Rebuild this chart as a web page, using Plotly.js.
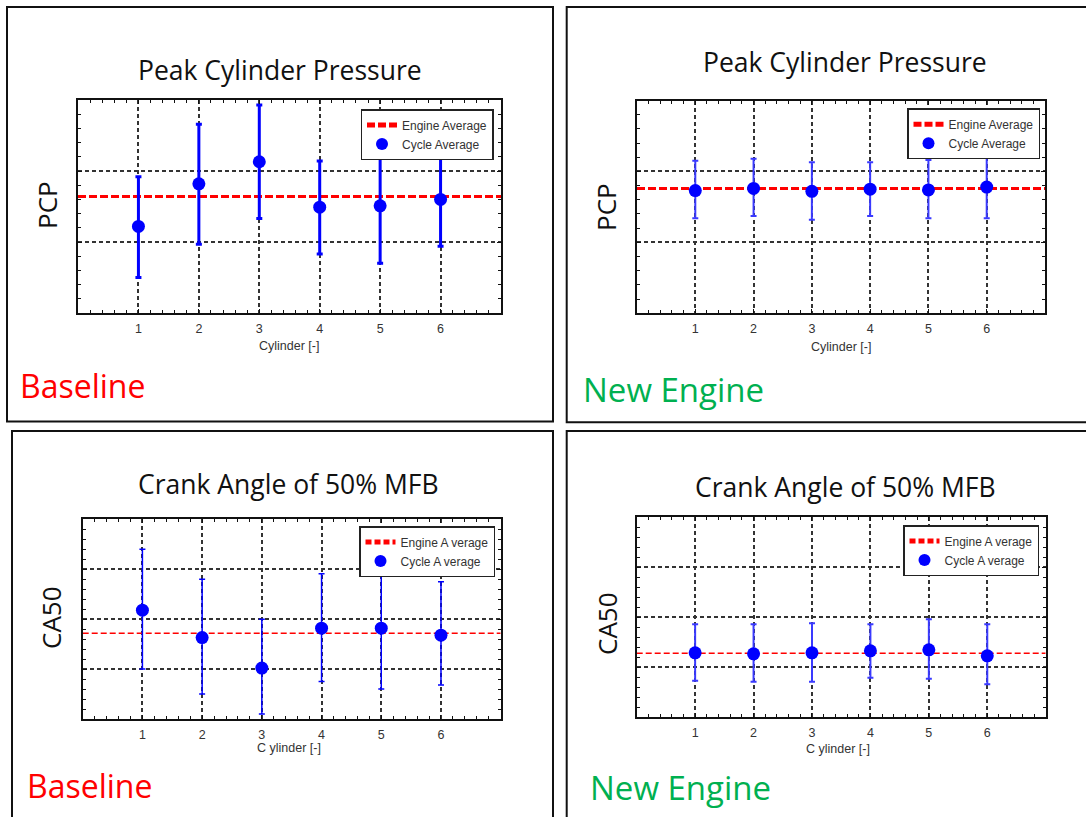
<!DOCTYPE html>
<html><head><meta charset="utf-8">
<script src="https://cdn.plot.ly/plotly-3.0.1.min.js"></script>
<style>html,body{margin:0;padding:0;background:#fff;overflow:hidden}#chart{width:1086px;height:817px}</style>
</head><body><div id="chart"></div>
<script>
// ---------- DATA ----------
const cylinders = [1, 2, 3, 4, 5, 6];
const cylinderTickText = ['1', '2', '3', '4', '5', '6'];
const xRange = [0, 7];

// Peak Cylinder Pressure (unlabelled axis, relative units)
const pcpRange = [0, 3];
const pcpBaseMean  = [1.22, 1.82, 2.13, 1.49, 1.51, 1.60];
const pcpBaseUpper = [1.92, 2.66, 2.93, 2.14, 2.32, 2.30];
const pcpBaseLower = [0.50, 0.97, 1.33, 0.83, 0.70, 0.94];
const pcpBaseEngineAvg = 1.64;
const pcpNewMean  = [1.73, 1.76, 1.72, 1.75, 1.74, 1.78];
const pcpNewUpper = [2.15, 2.18, 2.13, 2.13, 2.16, 2.20];
const pcpNewLower = [1.34, 1.37, 1.32, 1.37, 1.34, 1.34];
const pcpNewEngineAvg = 1.76;

// Crank Angle of 50% MFB (unlabelled axis, relative units)
const ca50Range = [0, 4];
const ca50BaseMean  = [2.18, 1.63, 1.02, 1.82, 1.82, 1.68];
const ca50BaseUpper = [3.40, 2.80, 2.00, 2.91, 3.04, 2.75];
const ca50BaseLower = [1.00, 0.50, 0.10, 0.75, 0.60, 0.68];
const ca50BaseEngineAvg = 1.72;
const ca50NewMean  = [1.29, 1.27, 1.29, 1.33, 1.35, 1.23];
const ca50NewUpper = [1.86, 1.86, 1.88, 1.86, 1.96, 1.86];
const ca50NewLower = [0.73, 0.71, 0.71, 0.79, 0.77, 0.66];
const ca50NewEngineAvg = 1.28;

const panelTitles = ['Peak Cylinder Pressure', 'Peak Cylinder Pressure', 'Crank Angle of 50% MFB', 'Crank Angle of 50% MFB'];
const yLabels = ['PCP', 'PCP', 'CA50', 'CA50'];
const xLabels = ['Cylinder [-]', 'Cylinder [-]', 'C ylinder [-]', 'C ylinder [-]'];
const caseLabels = ['Baseline', 'New Engine', 'Baseline', 'New Engine'];
const engineNames = ['Engine Average', 'Engine Average', 'Engine A verage', 'Engine A verage'];
const cycleNames = ['Cycle Average', 'Cycle Average', 'Cycle A verage', 'Cycle A verage'];

// ---------- LAYOUT ----------
const W = 1086, H = 817;
const px = x => x / W, py = y => 1 - y / H;

const panels = [
  {mean: pcpBaseMean, up: pcpBaseUpper, lo: pcpBaseLower, avg: pcpBaseEngineAvg, yr: pcpRange,
   plot: [78, 501, 100, 313], box: [7, 553, 7, 421.5], errW: 3, avgW: 3, msize: 13,
   title: [280, 70], ylab: [47, 205], xlab: [289, 346], cas: [18, 385, '#ff0000'], leg: [493.5, 109]},
  {mean: pcpNewMean, up: pcpNewUpper, lo: pcpNewLower, avg: pcpNewEngineAvg, yr: pcpRange,
   plot: [637, 1045, 100.5, 313.3], box: [566.7, 1100, 7, 422.3], errW: 2, avgW: 3, msize: 13,
   title: [845, 62], ylab: [606, 207], xlab: [841, 347], cas: [581, 389, '#00b050'], leg: [1040, 108.3]},
  {mean: ca50BaseMean, up: ca50BaseUpper, lo: ca50BaseLower, avg: ca50BaseEngineAvg, yr: ca50Range,
   plot: [82.7, 500.7, 519.3, 719], box: [12, 553, 431, 830], errW: 1.5, avgW: 1.5, msize: 13,
   title: [288, 484], ylab: [51, 618], xlab: [289, 748], cas: [25, 785, '#ff0000'], leg: [495, 526]},
  {mean: ca50NewMean, up: ca50NewUpper, lo: ca50NewLower, avg: ca50NewEngineAvg, yr: ca50Range,
   plot: [636.7, 1045.7, 517.3, 717.3], box: [566.7, 1100, 431, 830], errW: 2, avgW: 1.5, msize: 13,
   title: [845, 487], ylab: [607, 624], xlab: [838, 749], cas: [588, 787, '#00b050'], leg: [1039, 525]}
];

const data = [], shapes = [], annotations = [];
const layout = {
  width: W, height: H, margin: {l: 0, r: 0, t: 0, b: 0},
  paper_bgcolor: '#fff', plot_bgcolor: '#fff', showlegend: true,
  shapes, annotations
};

const tickFont = {family: 'Liberation Sans, Arial, sans-serif', size: 12.5, color: '#333'};
const bigFont = 'Open Sans, Noto Sans, sans-serif';

panels.forEach((p, i) => {
  const n = i === 0 ? '' : String(i + 1);
  const xa = 'x' + n, ya = 'y' + n, lg = 'legend' + n;
  const [x0, x1, y0, y1] = p.plot;

  data.push({
    type: 'scatter', mode: 'lines', x: xRange, y: [p.avg, p.avg],
    xaxis: xa, yaxis: ya, legend: lg, name: engineNames[i], hoverinfo: 'skip',
    line: {color: '#ff0000', width: p.avgW, dash: p.avgW > 2 ? '8px,3px' : '6px,3px'}
  });
  data.push({
    type: 'scatter', mode: 'markers', x: cylinders, y: p.mean,
    xaxis: xa, yaxis: ya, legend: lg, name: cycleNames[i],
    marker: {color: '#0000ff', size: p.msize},
    error_y: {type: 'data', symmetric: false,
      array: p.up.map((v, k) => v - p.mean[k]),
      arrayminus: p.mean.map((v, k) => v - p.lo[k]),
      color: i === 1 || i === 3 ? '#3a3aff' : '#0000ff', thickness: p.errW, width: 3}
  });

  const common = {
    showline: true, linecolor: '#111', linewidth: 2, mirror: 'ticks',
    ticks: 'inside', ticklen: 4, tickcolor: '#111', tickwidth: 1,
    showgrid: true, gridcolor: '#333', gridwidth: 2, griddash: '4px,3px',
    zeroline: false, fixedrange: true
  };
  layout['xaxis' + n] = Object.assign({}, common, {
    domain: [px(x0), px(x1)], anchor: ya, range: xRange,
    tickmode: 'array', tickvals: cylinders, ticktext: cylinderTickText,
    tickfont: tickFont, ticklabelstandoff: 3,
    minor: {tickmode: 'linear', tick0: 0, dtick: 0.2, ticks: 'inside', ticklen: 3, tickcolor: '#111', showgrid: false}
  });
  layout['yaxis' + n] = Object.assign({}, common, {
    domain: [py(y1), py(y0)], anchor: xa, range: p.yr,
    tickmode: 'linear', tick0: 0, dtick: 1, showticklabels: false,
    minor: {tickmode: 'linear', tick0: 0, dtick: 0.2, ticks: 'inside', ticklen: 3, tickcolor: '#111', showgrid: false}
  });
  layout[lg] = {
    x: px(p.leg[0]), y: py(p.leg[1]), xanchor: 'right', yanchor: 'top',
    xref: 'paper', yref: 'paper',
    bgcolor: '#fff', bordercolor: '#222', borderwidth: 1.5,
    font: {family: 'Liberation Sans, Arial, sans-serif', size: 12, color: '#333'},
    itemsizing: 'constant', tracegroupgap: 0
  };

  const [bx0, bx1, by0, by1] = p.box;
  shapes.push({type: 'rect', xref: 'paper', yref: 'paper',
    x0: px(bx0), x1: px(bx1), y0: py(by1), y1: py(by0),
    line: {color: '#111', width: 2}, fillcolor: 'rgba(0,0,0,0)', layer: 'below'});

  annotations.push({xref: 'paper', yref: 'paper', x: px(p.title[0]), y: py(p.title[1]),
    xanchor: 'center', yanchor: 'middle', showarrow: false, text: panelTitles[i],
    font: {family: bigFont, size: 26.5, color: '#111'}});
  annotations.push({xref: 'paper', yref: 'paper', x: px(p.ylab[0]), y: py(p.ylab[1]),
    xanchor: 'center', yanchor: 'middle', showarrow: false, text: yLabels[i], textangle: -90,
    font: {family: bigFont, size: 26, color: '#111'}});
  annotations.push({xref: 'paper', yref: 'paper', x: px(p.xlab[0]), y: py(p.xlab[1]),
    xanchor: 'center', yanchor: 'middle', showarrow: false, text: xLabels[i],
    font: tickFont});
  annotations.push({xref: 'paper', yref: 'paper', x: px(p.cas[0]), y: py(p.cas[1]),
    xanchor: 'left', yanchor: 'middle', showarrow: false, text: caseLabels[i],
    font: {family: bigFont, size: i % 2 ? 33 : 32, color: p.cas[2]}});
});

Plotly.newPlot('chart', data, layout, {displayModeBar: false, staticPlot: true});
</script>
</body></html>
